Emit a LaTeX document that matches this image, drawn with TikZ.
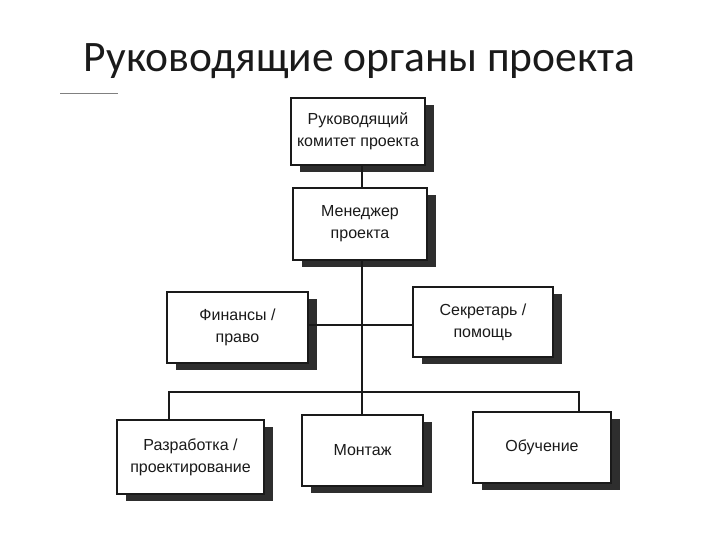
\documentclass[tikz,border=0pt]{standalone}
\usepackage{fontspec}
\setmainfont{Liberation Sans}
\newfontfamily\titlefont{Carlito}
\usetikzlibrary{shadows}
\definecolor{ink}{HTML}{1A1A1A}
\definecolor{shade}{HTML}{2E2E2E}
\begin{document}
\begin{tikzpicture}[x=1pt,y=-1pt,
  orgbox/.style={draw=ink, line width=1.4pt, fill=white, align=center,
    inner sep=0pt, font=\fontsize{16}{22}\selectfont, text=ink,
    drop shadow={shadow xshift=9pt, shadow yshift=-7pt, fill=shade, opacity=1}},
  link/.style={draw=ink, line width=1.1pt}]
\useasboundingbox (0,0) rectangle (720,540);
\node[font=\titlefont\fontsize{43.5}{46}\selectfont, text=ink] (title) at (359.5,61) {Руководящие органы проекта};
\coordinate (ruleA) at (60,94);
\coordinate (ruleB) at (118,94);
\draw[gray, line width=1pt] (ruleA) -- (ruleB);

\node[orgbox, minimum width=134pt, minimum height=67pt] (comm) at (358,131.5) {Руководящий\\комитет проекта};
\node[orgbox, minimum width=134pt, minimum height=72pt] (mgr) at (360,224) {Менеджер\\проекта};
\node[orgbox, minimum width=141pt, minimum height=71pt] (fin) at (237.5,327.5) {Финансы /\\право};
\node[orgbox, minimum width=140pt, minimum height=70pt] (sec) at (483,322) {Секретарь /\\помощь};
\node[orgbox, minimum width=147pt, minimum height=74pt] (dev) at (190.5,457) {Разработка /\\проектирование};
\node[orgbox, minimum width=121pt, minimum height=71pt] (mont) at (362.5,450.5) {Монтаж};
\node[orgbox, minimum width=138pt, minimum height=71pt] (edu) at (542,447.5) {Обучение};

\coordinate (t) at (362,0);
\coordinate (h) at (0,325);
\coordinate (busL) at (169,392);
\coordinate (busM) at (362,392);
\coordinate (busR) at (579,392);

\draw[link] (comm.south -| t) -- (mgr.north -| t);
\draw[link] (mgr.south -| t) -- (busM);
\draw[link] (busM) -- (mont.north -| t);
\draw[link] (fin.east |- h) -- (sec.west |- h);
\draw[link] (dev.north -| busL) -- (busL) -- (busR) -- (edu.north -| busR);
\end{tikzpicture}
\end{document}
